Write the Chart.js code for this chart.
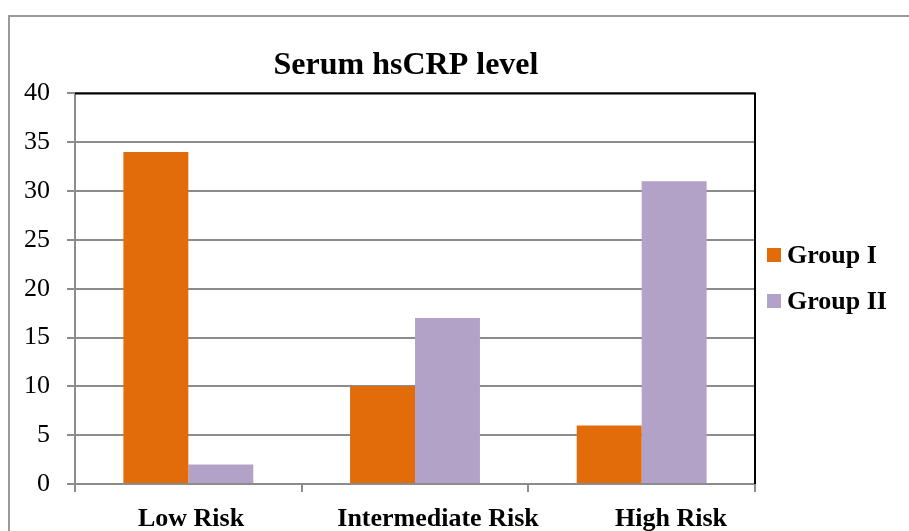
<!DOCTYPE html>
<html>
<head>
<meta charset="utf-8">
<script src="https://cdn.jsdelivr.net/npm/chart.js@4.4.1/dist/chart.umd.min.js"></script>
<style>
  html, body { margin: 0; padding: 0; background: #fff; }
  .wrap { position: relative; width: 909px; height: 531px; overflow: hidden; }
  .frame { position: absolute; left: 8px; top: 15px; width: 960px; height: 600px; border: 2px solid #9a9a9a; }
  canvas { position: absolute; left: 0; top: 0; }
  .legend { position: absolute; left: 767px; top: 232px; font-family: 'Liberation Serif', serif; font-weight: bold; font-size: 26px; color: #000; }
  .legend-item { display: flex; align-items: center; height: 46px; }
  .legend-box { width: 14px; height: 14px; margin-right: 6px; }
  .xlabel { position: absolute; top: 505px; line-height: 26px; white-space: nowrap; transform: translateX(-50%);
            font-family: 'Liberation Serif', serif; font-weight: bold; font-size: 26px; color: #000; }
</style>
</head>
<body>
<div class="wrap">
  <div class="frame"></div>
  <canvas id="myChart" width="909" height="531"></canvas>
  <div class="legend" id="legend"></div>
  <div id="xlabels"></div>
</div>
<script>
const categories = ['Low Risk', 'Intermediate Risk', 'High Risk'];
const groupOne = [34, 10, 6];
const groupTwo = [2, 17, 31];
const seriesNames = ['Group I', 'Group II'];
const yTicks = [0, 5, 10, 15, 20, 25, 30, 35, 40];

const gridColor = '#8c8c8c';
const serif = "'Liberation Serif', 'Times New Roman', serif";

// black border on top and right of the plot area, like the excel original
const plotBorder = {
    id: 'plotBorder',
    afterLayout(chart) {
        // title is centered a bit left of the plot
        chart.titleBlock.left = 0;
        chart.titleBlock.right = 812;
    },
    afterDraw(chart) {
        const { ctx, chartArea: a } = chart;
        ctx.save();
        ctx.strokeStyle = '#000';
        ctx.lineWidth = 2;
        ctx.beginPath();
        ctx.moveTo(a.left, a.top);
        ctx.lineTo(a.right, a.top);
        ctx.lineTo(a.right, a.bottom);
        ctx.stroke();
        ctx.restore();
    }
};

const ctx = document.getElementById('myChart').getContext('2d');
const myChart = new Chart(ctx, {
    type: 'bar',
    data: {
        labels: categories,
        datasets: [
            { label: seriesNames[0], data: groupOne, backgroundColor: '#e36c0a' },
            { label: seriesNames[1], data: groupTwo, backgroundColor: '#b2a2c7' }
        ]
    },
    options: {
        responsive: false,
        animation: false,
        devicePixelRatio: 1,
        categoryPercentage: 0.573,
        barPercentage: 1,
        layout: { padding: { left: 0, right: 154, top: 0, bottom: 0 } },
        plugins: {
            legend: { display: false },
            tooltip: { enabled: false },
            title: {
                display: true,
                text: 'Serum hsCRP level',
                color: '#000',
                font: { family: serif, size: 32, weight: 'bold' },
                padding: { top: 47, bottom: 8 }
            }
        },
        scales: {
            x: {
                offset: true,
                grid: { drawOnChartArea: false, offset: true, color: gridColor, lineWidth: 2, tickLength: 8 },
                border: { color: gridColor, width: 2 },
                // category names are set as a text line under the chart, as in the original
                ticks: { display: false },
                afterFit: (scale) => { scale.height = 47; }
            },
            y: {
                min: 0,
                max: 40,
                afterBuildTicks: (scale) => { scale.ticks = yTicks.map(v => ({ value: v })); },
                grid: { color: gridColor, lineWidth: 2, tickLength: 8 },
                border: { color: gridColor, width: 2 },
                ticks: { color: '#000', font: { family: serif, size: 26 }, padding: 17 },
                afterFit: (scale) => { scale.width = 75; }
            }
        }
    },
    plugins: [plotBorder]
});

// html legend built from the datasets
const legendEl = document.getElementById('legend');
myChart.data.datasets.forEach(ds => {
    legendEl.insertAdjacentHTML('beforeend', `
        <div class="legend-item">
            <span class="legend-box" style="background:${ds.backgroundColor}"></span>
            <span>${ds.label}</span>
        </div>`);
});

// category names line, not evenly spaced in the original
const labelCenters = [191, 438, 671];
const xLabelsEl = document.getElementById('xlabels');
categories.forEach((name, i) => {
    xLabelsEl.insertAdjacentHTML('beforeend',
        `<div class="xlabel" style="left:${labelCenters[i]}px">${name}</div>`);
});
</script>
</body>
</html>
